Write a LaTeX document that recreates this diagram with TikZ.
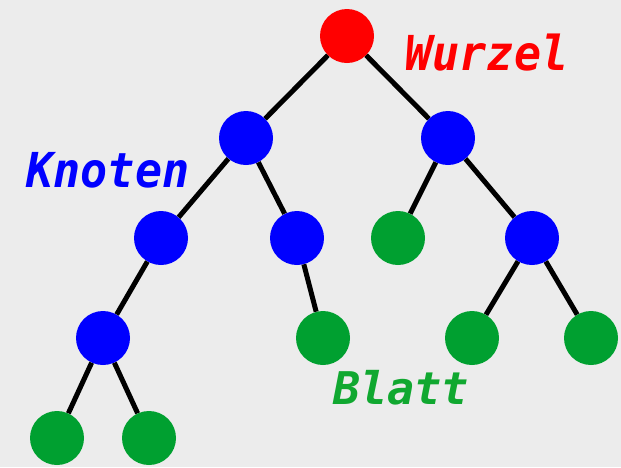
\documentclass[tikz,border=0pt]{standalone}
\usepackage{fontspec}
\newfontfamily\labelfont{DejaVu Sans Mono}
\definecolor{bgc}{RGB}{236,236,236}
\definecolor{nred}{RGB}{255,0,0}
\definecolor{nblue}{RGB}{0,0,255}
\definecolor{ngreen}{RGB}{0,160,48}
\definecolor{tgreen}{RGB}{16,168,48}
\begin{document}
\begin{tikzpicture}[x=1pt,y=-1pt,
  vertex/.style={circle,minimum size=54pt,inner sep=0pt},
  root/.style={vertex,fill=nred},
  inner/.style={vertex,fill=nblue},
  leaf/.style={vertex,fill=ngreen},
  edge/.style={draw=black,line width=5pt},
  lbl/.style={font=\labelfont\bfseries\itshape\fontsize{45}{45}\selectfont,anchor=base,inner sep=0pt}]
\fill[bgc] (0,0) rectangle (621,467);
\useasboundingbox (0,0) rectangle (621,467);
\node[root] (r) at (347,36) {};
\node[inner] (a) at (246,138) {};
\node[inner] (b) at (448,138) {};
\node[inner] (a1) at (161,238) {};
\node[inner] (a2) at (297,238) {};
\node[leaf] (b1) at (398,238) {};
\node[inner] (b2) at (532,238) {};
\node[inner] (a11) at (103,338) {};
\node[leaf] (a21) at (323,338) {};
\node[leaf] (b21) at (472,338) {};
\node[leaf] (b22) at (591,338) {};
\node[leaf] (a111) at (57,438) {};
\node[leaf] (a112) at (149,438) {};
\foreach \u/\v in {r/a,r/b,a/a1,a/a2,b/b1,b/b2,a1/a11,a2/a21,b2/b21,b2/b22,a11/a111,a11/a112}
  \draw[edge] (\u) -- (\v);
\node[lbl,text=nred] (w) at (487,70) {\scalebox{1}[1.07]{Wurzel}};
\node[lbl,text=nblue] (k) at (108,187) {\scalebox{1}[1.07]{Knoten}};
\node[lbl,text=tgreen] (bl) at (401,404) {Blatt};
\end{tikzpicture}
\end{document}
